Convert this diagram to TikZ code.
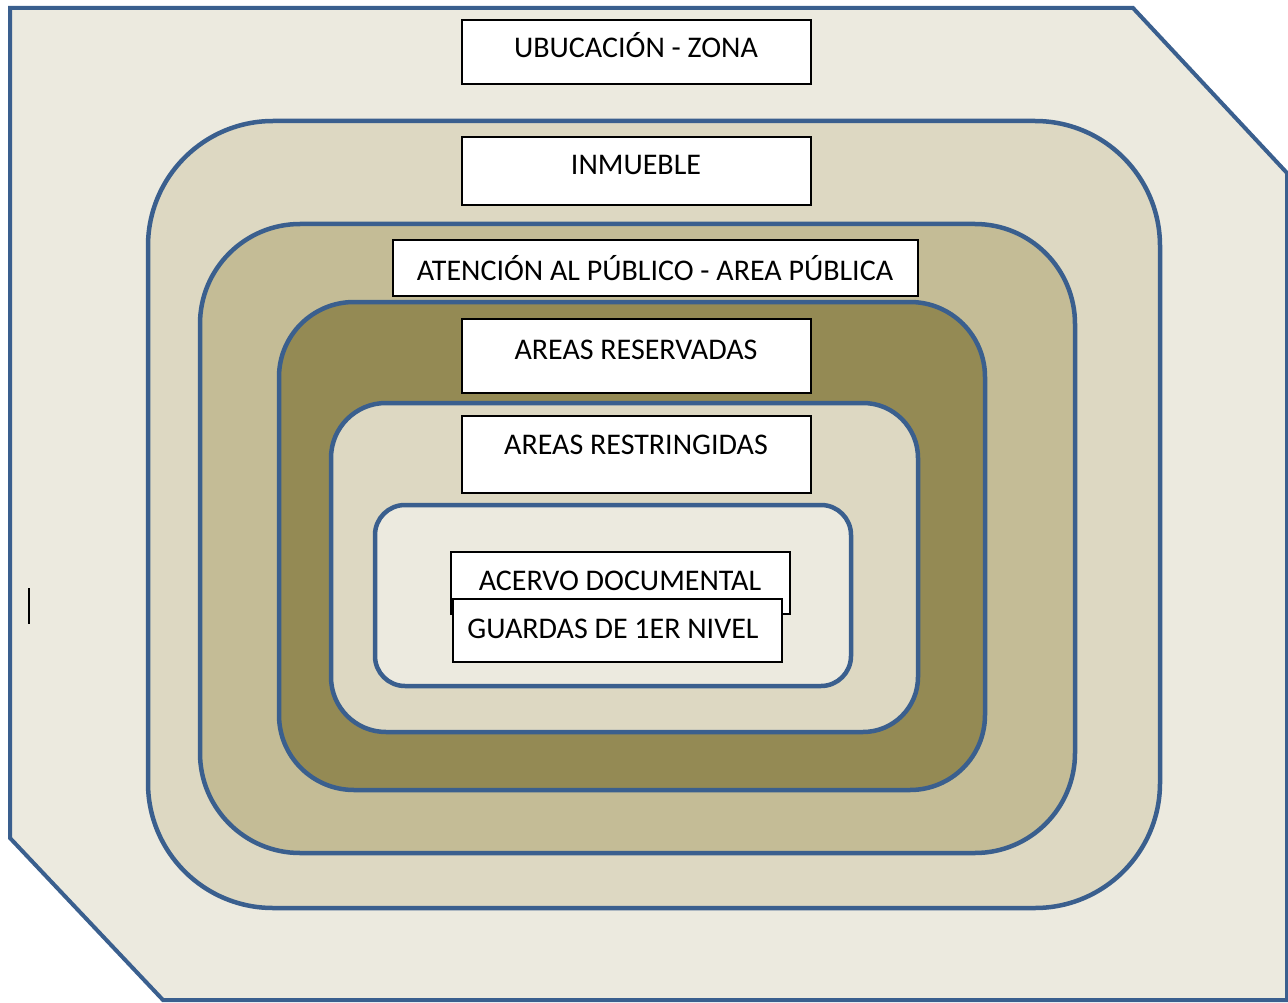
\documentclass[tikz,border=0pt]{standalone}
\usepackage{fontspec}
\setmainfont{Carlito}
\definecolor{bordc}{HTML}{3A5F8E}
\definecolor{c0}{HTML}{ECEADF}
\definecolor{c1}{HTML}{DDD8C2}
\definecolor{c2}{HTML}{C4BC96}
\definecolor{c3}{HTML}{948A54}
\definecolor{c4}{HTML}{DDD8C2}
\definecolor{c5}{HTML}{ECEADF}
\tikzset{
  ring/.style={draw=bordc, line width=4.5pt},
  lbox/.style={draw=black, line width=1.3pt, fill=white},
  ltext/.style={font=\fontsize{30}{36}\selectfont, anchor=base, inner sep=0pt},
}
\begin{document}
\begin{tikzpicture}[x=1pt,y=-1pt]
\useasboundingbox (0,0) rectangle (1288,1003);
\draw[ring, line width=4pt, fill=c0] (10,8) -- (1133,8) -- (1287,173) -- (1287,1000) -- (163,1000) -- (10,838) -- cycle;
\draw[ring, fill=c1, rounded corners=125pt] (148,121) rectangle (1160,908);
\draw[ring, fill=c2, rounded corners=100pt] (200,224) rectangle (1075,853);
\draw[ring, fill=c3, rounded corners=75pt] (279,302) rectangle (985,790);
\draw[ring, fill=c4, rounded corners=55pt] (331,403) rectangle (918,732);
\draw[ring, fill=c5, rounded corners=30pt] (375,505) rectangle (851,686);

\draw[lbox] (462,20) rectangle (811,84);
\node[ltext] (t1) at (636,58) {UBUCACIÓN - ZONA};
\draw[lbox] (462,137) rectangle (811,205);
\node[ltext] (t2) at (636,175) {INMUEBLE};
\draw[lbox] (393,240) rectangle (918,296);
\node[ltext] (t3) at (655,280) {ATENCIÓN AL PÚBLICO - AREA PÚBLICA};
\draw[lbox] (462,319) rectangle (811,393);
\node[ltext] (t4) at (636,359) {AREAS RESERVADAS};
\draw[lbox] (462,416) rectangle (811,493);
\node[ltext] (t5) at (636,454) {AREAS RESTRINGIDAS};
\draw[lbox] (451,552) rectangle (790,614);
\node[ltext] (t6) at (620,590) {ACERVO DOCUMENTAL};
\draw[lbox] (453,599) rectangle (782,662);
\node[ltext] (t7) at (613,638) {GUARDAS DE 1ER NIVEL};

\draw[black, line width=2.5pt] (29,588) -- (29,624);
\end{tikzpicture}
\end{document}
